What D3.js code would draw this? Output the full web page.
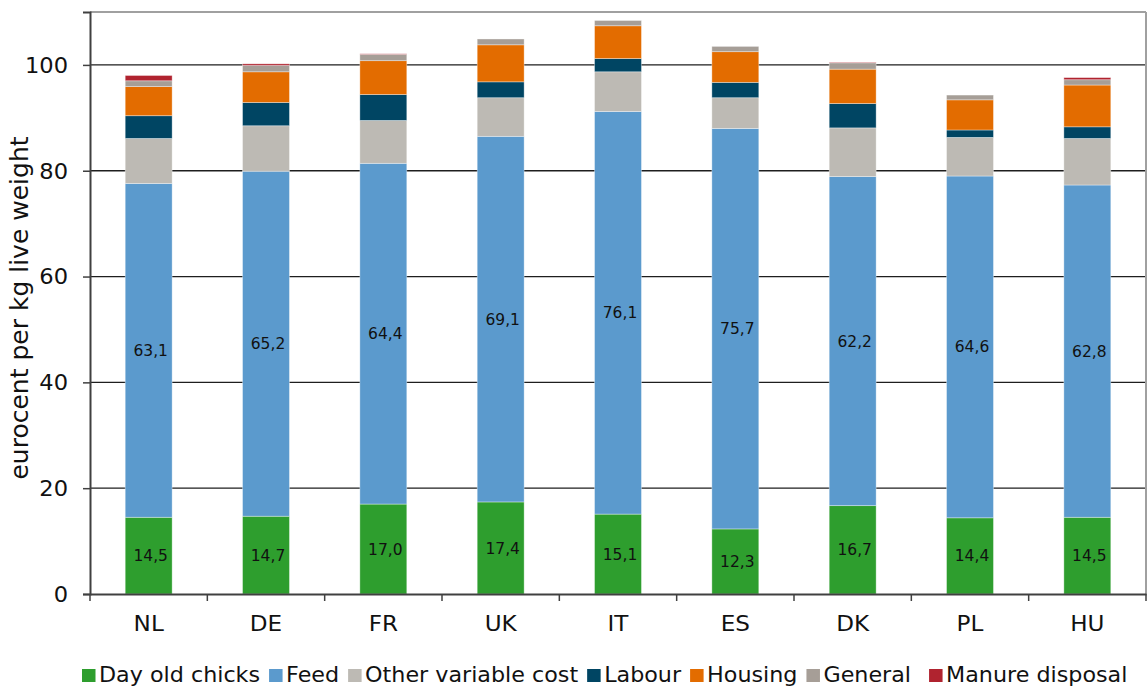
<!DOCTYPE html>
<html>
<head>
<meta charset="utf-8">
<script src="https://cdn.jsdelivr.net/npm/d3@7"></script>
<style>
  html, body { margin: 0; padding: 0; background: #ffffff; }
  svg { display: block; font-family: "DejaVu Sans", Verdana, sans-serif; }
</style>
</head>
<body>
<svg id="chart" width="1148" height="686"></svg>
<script>
// ---- data ----
const categories = ["NL", "DE", "FR", "UK", "IT", "ES", "DK", "PL", "HU"];
const seriesNames = ["Day old chicks", "Feed", "Other variable cost", "Labour", "Housing", "General", "Manure disposal"];
const dayOldChicks   = [14.5, 14.7, 17.0, 17.4, 15.1, 12.3, 16.7, 14.4, 14.5];
const feed           = [63.1, 65.2, 64.4, 69.1, 76.1, 75.7, 62.2, 64.6, 62.8];
const otherVariable  = [8.5, 8.6, 8.1, 7.3, 7.5, 5.8, 9.2, 7.3, 8.8];
const labour         = [4.3, 4.4, 4.9, 3.0, 2.5, 2.9, 4.6, 1.4, 2.2];
const housing        = [5.5, 5.8, 6.4, 7.0, 6.2, 5.8, 6.5, 5.7, 7.9];
const general        = [1.1, 1.2, 1.2, 1.1, 1.0, 1.0, 1.2, 0.9, 1.0];
const manureDisposal = [1.0, 0.3, 0.1, 0.0, 0.0, 0.0, 0.1, 0.0, 0.4];
const yTicks = [0, 20, 40, 60, 80, 100];
const yTitle = "eurocent per kg live weight";
const labelledSeries = ["Day old chicks", "Feed"];
const colors = ["#2e9e2e", "#5b9acd", "#bdbab4", "#004563", "#e36c00", "#a69e97", "#b0232f"];

const seriesValues = [dayOldChicks, feed, otherVariable, labour, housing, general, manureDisposal];
const rows = categories.map((c, i) => {
  const r = { cat: c };
  seriesNames.forEach((s, j) => r[s] = seriesValues[j][i]);
  return r;
});

// ---- layout ----
const svg = d3.select("#chart");
const plot = { left: 90, right: 1146, top: 12, bottom: 594 };
const stretch = 1.1;
const legendStretch = 1.085;

const x = d3.scaleBand().domain(categories).range([plot.left, plot.right]).padding(0);
const y = d3.scaleLinear().domain([0, 110]).range([plot.bottom, plot.top]);
const color = d3.scaleOrdinal().domain(seriesNames).range(colors);
const barW = x.bandwidth() * 0.4;
const barOff = x.bandwidth() * 0.3;

// gridlines
svg.append("g").selectAll("line").data(yTicks.filter(t => t > 0)).join("line")
  .attr("x1", plot.left).attr("x2", plot.right)
  .attr("y1", d => y(d)).attr("y2", d => y(d))
  .attr("stroke", "#1e1e1e").attr("stroke-width", 1.3);

// frame top / right
svg.append("line").attr("x1", plot.left).attr("x2", plot.right)
  .attr("y1", y(110)).attr("y2", y(110)).attr("stroke", "#a0a0a0").attr("stroke-width", 2);
svg.append("line").attr("x1", plot.right).attr("x2", plot.right)
  .attr("y1", y(110)).attr("y2", y(0)).attr("stroke", "#a0a0a0").attr("stroke-width", 2);

// bars
const stack = d3.stack().keys(seriesNames)(rows);
const layers = svg.append("g").selectAll("g").data(stack).join("g")
  .attr("fill", d => color(d.key));
layers.selectAll("rect").data(d => d).join("rect")
  .attr("x", d => x(d.data.cat) + barOff)
  .attr("width", barW)
  .attr("y", d => y(d[1]))
  .attr("height", d => Math.max(0, y(d[0]) - y(d[1])))
  .attr("stroke", "rgba(255,255,255,0.45)")
  .attr("stroke-width", 0.8);

// data labels
const fmt = v => d3.format(".1f")(v).replace(".", ",");
stack.filter(s => labelledSeries.includes(s.key)).forEach(s => {
  svg.append("g").selectAll("text").data(s).join("text")
    .attr("x", d => x(d.data.cat) + x.bandwidth() / 2 + 2)
    .attr("y", d => y((d[0] + d[1]) / 2))
    .attr("dy", "0.36em")
    .attr("text-anchor", "middle")
    .attr("font-size", "15.5px")
    .attr("fill", "#111")
    .text(d => fmt(d[1] - d[0]));
});

// y axis
const yAxis = svg.append("g").attr("transform", `translate(${plot.left},0)`)
  .call(d3.axisLeft(y).tickValues(yTicks).tickSize(7).tickPadding(0).tickFormat(d3.format("d")));
yAxis.select(".domain").attr("stroke", "#404040").attr("stroke-width", 2);
yAxis.selectAll(".tick line").attr("stroke", "#404040").attr("stroke-width", 1.5);
yAxis.selectAll(".tick text").remove();
yAxis.selectAll(".tick").append("text")
  .attr("transform", `translate(-22,0) scale(${stretch},1)`)
  .attr("text-anchor", "end").attr("dy", "0.36em")
  .attr("font-size", "20.5px").attr("fill", "#111")
  .attr("font-family", "DejaVu Sans, sans-serif")
  .text(d => d);

// x axis
const xAxis = svg.append("g").attr("transform", `translate(0,${plot.bottom})`)
  .call(d3.axisBottom(x).tickSize(0).tickFormat(""));
xAxis.select(".domain").attr("stroke", "#404040").attr("stroke-width", 2);
xAxis.selectAll(".tick line").remove();
xAxis.selectAll(".tick text").remove();
const boundaries = categories.map(c => x(c)).concat([x.range()[1]]);
svg.append("g").selectAll("line").data(boundaries).join("line")
  .attr("x1", d => d).attr("x2", d => d)
  .attr("y1", plot.bottom).attr("y2", plot.bottom + 7)
  .attr("stroke", "#404040").attr("stroke-width", 1.5);
svg.append("g").selectAll("text").data(categories).join("text")
  .attr("transform", d => `translate(${x(d) + x.bandwidth() / 2},631) scale(${stretch},1)`)
  .attr("text-anchor", "middle")
  .attr("font-size", "21px").attr("fill", "#111")
  .text(d => d);

// y title
svg.append("text")
  .attr("transform", `translate(28,${(plot.top + plot.bottom) / 2 + 5}) rotate(-90)`)
  .attr("text-anchor", "middle")
  .attr("font-size", "25px").attr("fill", "#111")
  .text(yTitle);

// legend
const legend = svg.append("g");
let lx = 82;
seriesNames.forEach((s, i) => {
  legend.append("rect").attr("x", lx).attr("y", 669).attr("width", 13.5).attr("height", 13)
    .attr("fill", color(s));
  const t = legend.append("text")
    .attr("transform", `translate(${lx + 17},682) scale(${legendStretch},1)`)
    .attr("font-size", "20.5px").attr("fill", "#111")
    .text(s);
  const w = t.node().getComputedTextLength() * legendStretch;
  lx = lx + 17 + w + (s === "General" ? 18 : 9);
});
</script>
</body>
</html>
